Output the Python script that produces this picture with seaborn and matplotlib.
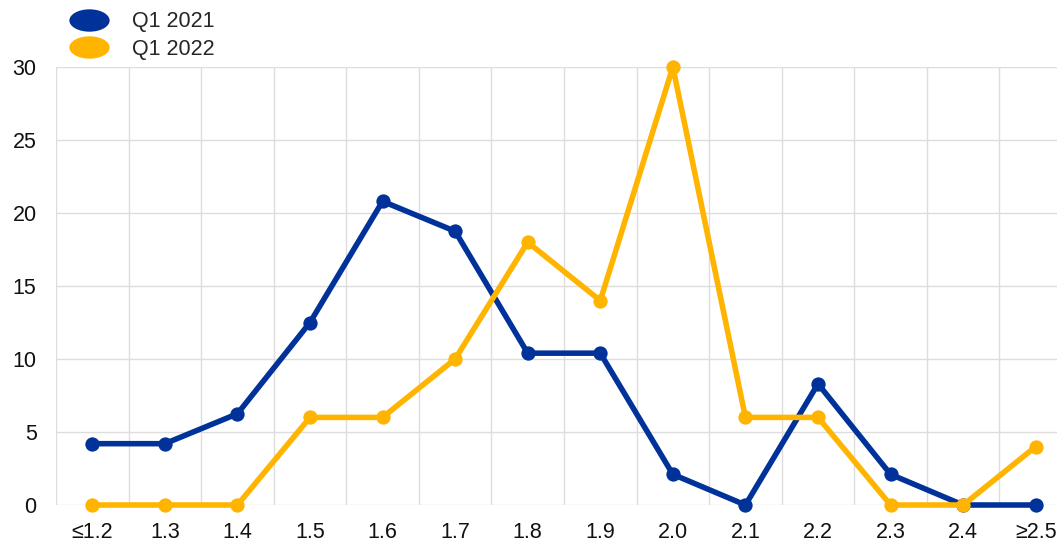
import numpy as np
import pandas as pd
import matplotlib
matplotlib.use("Agg")
import matplotlib.pyplot as plt
from matplotlib.path import Path
from matplotlib.lines import Line2D
import seaborn as sns

categories = ["≤1.2", "1.3", "1.4", "1.5", "1.6", "1.7", "1.8", "1.9",
              "2.0", "2.1", "2.2", "2.3", "2.4", "≥2.5"]
q1_2021 = [4.2, 4.2, 6.25, 12.5, 20.8, 18.75, 10.4, 10.4, 2.1, 0.0, 8.3, 2.1, 0.0, 0.0]
q1_2022 = [0.0, 0.0, 0.0, 6.0, 6.0, 10.0, 18.0, 14.0, 30.0, 6.0, 6.0, 0.0, 0.0, 4.0]
series_names = ["Q1 2021", "Q1 2022"]
colors = ["#003299", "#FFB400"]
y_ticks = [0, 5, 10, 15, 20, 25, 30]

sns.set_theme(style="white")
plt.rcParams["font.family"] = ["Liberation Sans", "DejaVu Sans"]

df = pd.DataFrame({
    "pos": list(range(len(categories))) * 2,
    "value": q1_2021 + q1_2022,
    "series": [series_names[0]] * len(categories) + [series_names[1]] * len(categories),
})

fig = plt.figure(figsize=(10.57, 5.42), dpi=100)
ax = fig.add_axes([56 / 1057, 37 / 542, 1 - 56 / 1057, 438 / 542])

sns.lineplot(data=df, x="pos", y="value", hue="series", hue_order=series_names,
             palette=colors, marker="o", markersize=10.3, markeredgewidth=0,
             linewidth=4.0, ax=ax, legend=False, zorder=3)
for ln in ax.lines:
    ln.set_clip_on(False)

n = len(categories)
ax.set_yticks(y_ticks)
ax.set_yticklabels([str(t) for t in y_ticks], fontsize=15.5, color="#111111")
ax.set_xticks(range(n))
ax.set_xticklabels(categories, fontsize=15.5, color="#111111")
ax.set_xticks(np.arange(-0.5, n, 1.0), minor=True)
ax.set_xlim(-0.5, n - 0.5 - 15 / 72.6)
ax.set_ylim(0, 30)
ax.grid(False)
ax.yaxis.grid(True, color="#dddddd", linewidth=1)
ax.xaxis.grid(True, which="minor", color="#dddddd", linewidth=1)
ax.tick_params(axis="y", which="both", length=0, pad=14)
ax.tick_params(axis="x", which="both", length=0, pad=12)
ax.set_axisbelow(True)
for s in ax.spines.values():
    s.set_visible(False)
ax.set_xlabel("")
ax.set_ylabel("")
ax.patch.set_alpha(0)

circ = Path.unit_circle()
ell = Path(circ.vertices * np.array([1.8, 1.0]), circ.codes)
handles = [Line2D([], [], linestyle="none", marker=ell, markersize=29,
                  markerfacecolor=c, markeredgewidth=0) for c in colors]
fig.legend(handles, series_names, loc="upper left", bbox_to_anchor=(64 / 1057, 0.995),
           frameon=False, fontsize=15.5, handlelength=1.5, handletextpad=1.25,
           labelspacing=0.3, borderaxespad=0)

fig.savefig("out.png", dpi=100)
